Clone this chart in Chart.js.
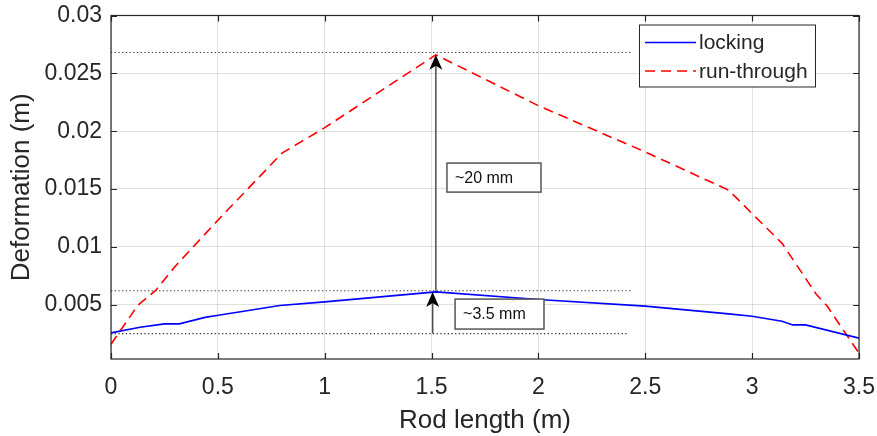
<!DOCTYPE html>
<html>
<head>
<meta charset="utf-8">
<script src="https://cdn.jsdelivr.net/npm/chart.js@4.4.1/dist/chart.umd.min.js"></script>
<style>
  html, body { margin: 0; padding: 0; background: #fff; }
  canvas { display: block; }
</style>
</head>
<body>
<canvas id="rodChart" width="877" height="436"></canvas>
<script>
// rod positions (m) and deformation (m)
const lockX = [0, 0.136, 0.25, 0.32, 0.44, 0.51, 0.79, 1.0, 1.52, 2.0, 2.5, 2.89, 3.0, 3.14, 3.19, 3.25, 3.5];
const lockY = [0.00256, 0.00305, 0.00334, 0.00334, 0.0039, 0.0041, 0.00493, 0.00524, 0.0061, 0.00545, 0.00487, 0.0042, 0.0040, 0.00357, 0.00325, 0.00325, 0.0021];

const runX = [0, 0.126, 0.21, 0.30, 0.5, 0.8, 1.0, 1.52, 2.0, 2.5, 2.89, 3.02, 3.14, 3.30, 3.35, 3.5];
const runY = [0.00158, 0.00496, 0.00625, 0.0083, 0.0123, 0.0181, 0.0203, 0.0266, 0.0222, 0.0182, 0.0149, 0.0125, 0.0103, 0.0059, 0.0049, 0.0008];

const xTicks = [0, 0.5, 1, 1.5, 2, 2.5, 3, 3.5];
const yTicks = [0.005, 0.01, 0.015, 0.02, 0.025, 0.03];
const yTickLabels = ['0.005', '0.01', '0.015', '0.02', '0.025', '0.03'];

// dotted guide levels: [y, xEnd]
const guideLevels = [[0.0268, 2.44], [0.0062, 2.44], [0.0025, 2.42]];

// arrows: [x, yFrom, yTo]
const arrows = [[1.52, 0.0062, 0.0266], [1.505, 0.0025, 0.0061]];

// boxed notes: [text, xLeft, xRight, yTop, yBottom]
const notes = [
    ['~20 mm', 1.572, 2.012, 0.01724, 0.01473],
    ['~3.5 mm', 1.61, 2.026, 0.00548, 0.00289]
];

const seriesNames = ['locking', 'run-through'];

const toPoints = (xs, ys) => xs.map((x, i) => ({ x: x, y: ys[i] }));
const ink = '#262626';

Chart.defaults.font.family = "'Liberation Sans', Arial, sans-serif";
Chart.defaults.color = ink;

const guideSets = guideLevels.map(g => ({
    label: 'guide',
    data: [{ x: 0, y: g[0] }, { x: g[1], y: g[0] }],
    borderColor: '#333',
    borderWidth: 1.2,
    borderDash: [1.3, 2.4],
    pointRadius: 0,
    order: 3
}));

// arrows, note boxes, legend and the MATLAB-like frame
const overlay = {
    id: 'overlay',
    afterDatasetsDraw(chart) {
        const ctx = chart.ctx;
        const xs = chart.scales.x, ys = chart.scales.y;
        const area = chart.chartArea;
        ctx.save();

        arrows.forEach(a => {
            const px = xs.getPixelForValue(a[0]);
            const y0 = ys.getPixelForValue(a[1]);
            const y1 = ys.getPixelForValue(a[2]);
            ctx.strokeStyle = '#4d4d4d';
            ctx.lineWidth = 1.5;
            ctx.setLineDash([]);
            ctx.beginPath();
            ctx.moveTo(px, y0);
            ctx.lineTo(px, y1 + 8);
            ctx.stroke();
            ctx.fillStyle = '#000';
            ctx.beginPath();
            ctx.moveTo(px, y1);
            ctx.lineTo(px - 6.5, y1 + 15);
            ctx.lineTo(px, y1 + 11);
            ctx.lineTo(px + 6.5, y1 + 15);
            ctx.closePath();
            ctx.fill();
        });

        notes.forEach(n => {
            const l = xs.getPixelForValue(n[1]);
            const r = xs.getPixelForValue(n[2]);
            const t = ys.getPixelForValue(n[3]);
            const b = ys.getPixelForValue(n[4]);
            ctx.fillStyle = '#fff';
            ctx.fillRect(l, t, r - l, b - t);
            ctx.strokeStyle = '#555';
            ctx.lineWidth = 1.5;
            ctx.strokeRect(l, t, r - l, b - t);
            ctx.fillStyle = '#111';
            ctx.font = "16px 'Liberation Sans', Arial, sans-serif";
            ctx.textAlign = 'left';
            ctx.textBaseline = 'middle';
            ctx.fillText(n[0], l + 8, (t + b) / 2 + 1);
        });

        // frame + inward ticks on all sides
        ctx.strokeStyle = ink;
        ctx.lineWidth = 1.2;
        ctx.strokeRect(area.left, area.top, area.right - area.left, area.bottom - area.top);
        ctx.beginPath();
        xTicks.forEach(v => {
            const px = Math.round(xs.getPixelForValue(v)) + 0.5;
            ctx.moveTo(px, area.bottom); ctx.lineTo(px, area.bottom - 6);
            ctx.moveTo(px, area.top); ctx.lineTo(px, area.top + 6);
        });
        yTicks.forEach(v => {
            const py = Math.round(ys.getPixelForValue(v)) + 0.5;
            ctx.moveTo(area.left, py); ctx.lineTo(area.left + 6, py);
            ctx.moveTo(area.right, py); ctx.lineTo(area.right - 6, py);
        });
        ctx.stroke();

        // legend box in the upper right
        const lx = area.right - 220, ly = area.top + 9, lw = 176, lh = 62;
        ctx.fillStyle = '#fff';
        ctx.fillRect(lx, ly, lw, lh);
        ctx.strokeStyle = ink;
        ctx.lineWidth = 1;
        ctx.strokeRect(lx + 0.5, ly + 0.5, lw, lh);
        const styles = [
            { color: '#0000ff', dash: [] },
            { color: '#ff0000', dash: [10, 6] }
        ];
        seriesNames.forEach((name, i) => {
            const yy = ly + 18 + i * 28.5;
            ctx.strokeStyle = styles[i].color;
            ctx.lineWidth = 1.5;
            ctx.setLineDash(styles[i].dash);
            ctx.beginPath();
            ctx.moveTo(lx + 6, yy);
            ctx.lineTo(lx + 57, yy);
            ctx.stroke();
            ctx.setLineDash([]);
            ctx.fillStyle = ink;
            ctx.font = "21px 'Liberation Sans', Arial, sans-serif";
            ctx.textAlign = 'left';
            ctx.textBaseline = 'middle';
            ctx.fillText(name, lx + 60, yy + 1);
        });
        ctx.restore();
    }
};

const ctx = document.getElementById('rodChart').getContext('2d');
new Chart(ctx, {
    type: 'line',
    data: {
        datasets: [
            {
                label: seriesNames[0],
                data: toPoints(lockX, lockY),
                borderColor: '#0000ff',
                borderWidth: 1.6,
                pointRadius: 0,
                order: 1
            },
            {
                label: seriesNames[1],
                data: toPoints(runX, runY),
                borderColor: '#ff0000',
                borderWidth: 1.6,
                borderDash: [10, 6],
                pointRadius: 0,
                order: 2
            },
            ...guideSets
        ]
    },
    options: {
        responsive: false,
        animation: false,
        layout: { padding: { left: 0, right: 18, top: 15.5, bottom: 0 } },
        plugins: {
            legend: { display: false },
            tooltip: { enabled: false }
        },
        scales: {
            x: {
                type: 'linear',
                min: 0,
                max: 3.5,
                afterBuildTicks: s => { s.ticks = xTicks.map(v => ({ value: v })); },
                afterFit: s => { s.height = 77; s.paddingLeft = 0; s.paddingRight = 0; },
                ticks: { font: { size: 23 }, padding: 15, maxRotation: 0, callback: v => String(v) },
                grid: { color: 'rgba(38,38,38,0.14)', drawTicks: false },
                border: { display: false },
                title: { display: true, text: 'Rod length (m)', font: { size: 26 }, padding: { top: 0, bottom: 0 } }
            },
            y: {
                min: 0.0003,
                max: 0.03,
                afterBuildTicks: s => { s.ticks = yTicks.map(v => ({ value: v })); },
                afterFit: s => { s.width = 111; s.paddingTop = 0; s.paddingBottom = 0; },
                ticks: {
                    font: { size: 23 },
                    padding: 9,
                    callback: v => yTickLabels[yTicks.indexOf(v)]
                },
                grid: { color: 'rgba(38,38,38,0.14)', drawTicks: false },
                border: { display: false },
                title: { display: true, text: 'Deformation (m)', font: { size: 26 }, padding: { top: 6, bottom: 0 } }
            }
        }
    },
    plugins: [overlay]
});
</script>
</body>
</html>
